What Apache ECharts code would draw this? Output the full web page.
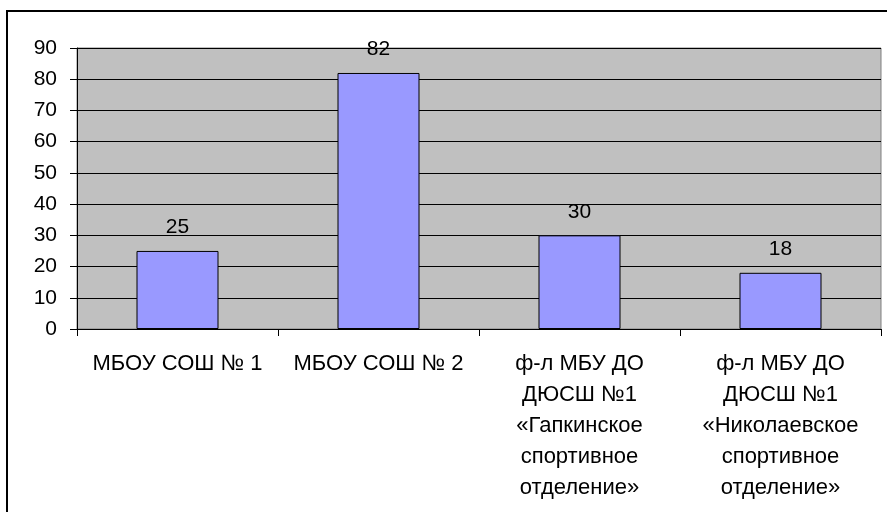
<!DOCTYPE html>
<html style="height: 100%">
  <head>
    <meta charset="utf-8" />
  </head>
  <body style="height: 100%; margin: 0; background: #fff">
    <div id="chart" style="width: 887px; height: 512px"></div>
    <script type="text/javascript" src="https://cdn.jsdelivr.net/npm/echarts@6/dist/echarts.min.js"></script>
    <script type="text/javascript">
      // категории (подписи оси X)
      let categories = [
        "МБОУ СОШ № 1",
        "МБОУ СОШ № 2",
        "ф-л МБУ ДО\nДЮСШ №1\n«Гапкинское\nспортивное\nотделение»",
        "ф-л МБУ ДО\nДЮСШ №1\n«Николаевское\nспортивное\nотделение»",
      ];
      // значения столбцов
      let values = [25, 82, 30, 18];
      // шкала Y
      let yMin = 0;
      let yMax = 90;
      let yStep = 10;

      var myChart = echarts.init(document.getElementById("chart"));
      var font = "Liberation Sans";

      var option = {
        animation: false,
        backgroundColor: "#fff",
        textStyle: { fontFamily: font },
        graphic: [
          {
            // внешняя рамка диаграммы
            type: "rect",
            shape: { x: 7, y: 11, width: 900, height: 520 },
            style: { fill: "none", stroke: "#000", lineWidth: 2 },
            silent: true,
            z: -1,
          },
        ],
        grid: {
          left: 77,
          right: 6,
          top: 48,
          bottom: 183,
          show: true,
          backgroundColor: "#c0c0c0",
          borderColor: "#808080",
          borderWidth: 1,
        },
        xAxis: {
          type: "category",
          data: categories,
          axisLine: { lineStyle: { color: "#000", width: 1 } },
          axisTick: { show: true, length: 7, lineStyle: { color: "#000" } },
          axisLabel: {
            interval: 0,
            color: "#000",
            fontSize: 22,
            lineHeight: 31,
            margin: 19,
            fontFamily: font,
          },
        },
        yAxis: {
          type: "value",
          min: yMin,
          max: yMax,
          interval: yStep,
          axisLine: { show: true, lineStyle: { color: "#000", width: 1 } },
          axisTick: { show: true, length: 7, lineStyle: { color: "#000" } },
          axisLabel: { color: "#000", fontSize: 21, margin: 20, fontFamily: font },
          splitLine: { show: true, lineStyle: { color: "#000", width: 1 } },
        },
        series: [
          {
            type: "bar",
            data: values,
            barWidth: 82,
            itemStyle: {
              color: "#9999ff",
              borderColor: "#000",
              borderWidth: 1,
            },
            label: {
              show: true,
              position: "top",
              distance: 13,
              color: "#000",
              fontSize: 21,
              fontFamily: font,
            },
          },
        ],
      };

      if (option && typeof option === "object") {
        myChart.setOption(option);
      }
    </script>
  </body>
</html>
